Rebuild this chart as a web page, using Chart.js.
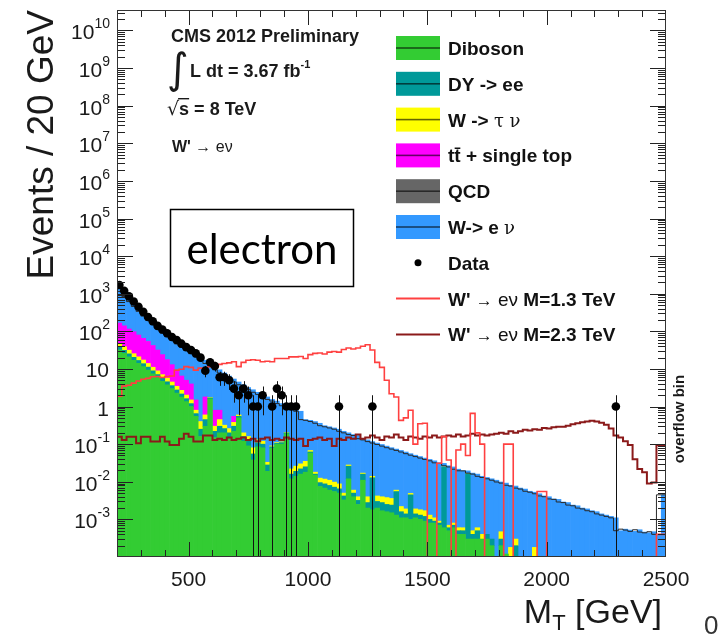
<!DOCTYPE html>
<html>
<head>
<meta charset="utf-8">
<script src="https://cdn.jsdelivr.net/npm/chart.js@4.4.1/dist/chart.umd.min.js"></script>
<style>
  html, body { margin: 0; padding: 0; background: #fff; }
  #wrap { width: 720px; height: 635px; position: relative; }
</style>
</head>
<body>
<div id="wrap"><canvas id="chart"></canvas></div>
<script>
// M_T histogram, 20 GeV bins from 200 to 2500 GeV (last bin = overflow)
const binStart = 200;
const binWidth = 20;
const nBins = 115;

const diboson = [
  32, 26, 21, 17, 14, 11.5, 9.3, 7.4, 5.9, 4.7,
  3.8, 3.0, 2.3, 1.8, 1.35, 1.0, 0.55, 0.16, 0.3, 1.6,
  0.15, 0.2, 0.2, 0.14, 0.22, 0.5, 0.12, 0.09, 0.038, 0.085,
  0.08, 0.019, 0.078, 0.1, 0.1, 0.19, 0.012, 0.014, 0.016, 0.018,
  0.058, 0.015, 0.0075, 0.0068, 0.006, 0.0055, 0.005, 0.0033, 0.012, 0.004,
  0.0025, 0.011, 0.002, 0.0018, 0.002, 0.0017, 0.0016, 0.0015, 0.0013, 0.0011,
  0.0011, 0.001, 0.0011, 0.001, 0.0009, 0.0008, 0.0008, 0.0007, 0.0006, 0.0005,
  0.0006, 0.0004, 0.0004, 0.0003, 0.0003, 0.0003, 0.0003, 0.0003, 0.0002, 0,
  0.0002, 0.00012, 0, 0.0001, 0, 0, 0, 0.0001, 0, 0,
  0, 0, 0, 0, 0, 0, 0, 0, 0, 0,
  0, 0, 0, 0, 0, 0, 0, 0, 0, 0,
  0, 0, 0, 0, 0
];
const dyee = [
  6.4, 5.2, 4.2, 3.4, 2.8, 2.3, 1.9, 1.5, 1.2, 0.95,
  0.76, 0.6, 0.46, 0.36, 0.27, 0.2, 0.1, 0.09, 0.15, 0.1,
  0.07, 0.1, 0.06, 0.06, 0.08, 0.05, 0.04, 0.04, 0.017, 0.025,
  0.02, 0.009, 0.007, 0.005, 0.01, 0.01, 0.004, 0.005, 0.006, 0.007,
  0.004, 0.001, 0.002, 0.002, 0.002, 0.0017, 0.0015, 0.0009, 0.014, 0.001,
  0.0007, 0.005, 0.0008, 0.011, 0.001, 0.0011, 0.0009, 0.0009, 0.0042, 0.0005,
  0.0003, 0.0035, 0.0003, 0.0003, 0.0003, 0.0002, 0.0001, 0.0001, 0.024, 0.0001,
  0.0001, 0.0001, 0.0001, 0.016, 0.0001, 0.0002, 0, 0.0001, 0.0001, 0,
  0.0001, 0, 0, 0.0001, 0, 0, 0, 0, 0, 0,
  0, 0, 0, 0, 0, 0, 0, 0, 0, 0,
  0, 0, 0, 0, 0, 0, 0, 0, 0, 0,
  0, 0, 0, 0, 0
];
const wtaunu = [
  9.6, 7.8, 6.3, 5.1, 4.2, 3.5, 2.8, 2.2, 1.8, 1.4,
  1.15, 0.9, 0.7, 0.54, 0.4, 0.3, 0.15, 0.15, 0.15, 0.05,
  0.08, 0.15, 0.06, 0.06, 0.08, 0.05, 0.04, 0.03, 0.025, 0.02,
  0.02, 0.005, 0.005, 0.005, 0.005, 0.005, 0.006, 0.007, 0.008, 0.01,
  0.006, 0.002, 0.003, 0.003, 0.003, 0.0026, 0.0023, 0.0008, 0.002, 0.001,
  0.0008, 0.001, 0.0012, 0.0012, 0.0012, 0.0012, 0.0013, 0.0012, 0.0005, 0.0006,
  0.0005, 0.0004, 0.0005, 0.0005, 0.0005, 0.0003, 0.0002, 0.0001, 0.0002, 0.0001,
  0.0001, 0.0001, 0.0001, 0.0002, 0.0001, 0.0001, 0.0001, 0, 0, 0,
  0.00017, 0, 0.00018, 0.0001, 0, 0, 0, 0.00008, 0, 0,
  0, 0, 0, 0, 0, 0, 0, 0, 0, 0,
  0, 0, 0, 0, 0, 0, 0, 0, 0, 0,
  0, 0, 0, 0, 0
];
const ttbar = [
  118, 101, 84, 72, 59, 48, 40, 31, 23, 17,
  12, 8.5, 5.5, 3.8, 3.0, 2.5, 0.7, 0, 1.2, 0,
  0.5, 0.35, 0, 0, 0.17
];
const qcd = [];
const wenu = [
  1330, 1010, 735, 520, 380, 275, 201, 153, 118, 91,
  72, 59, 49, 40, 33, 27, 24, 20.6, 15.2, 12.2,
  10.7, 8.7, 7.5, 6.2, 4.85, 3.9, 3.6, 3.04, 2.72, 2.27,
  1.98, 1.77, 1.46, 1.29, 1.085, 0.845, 0.928, 0.824, 0.72, 0.415,
  0.362, 0.382, 0.347, 0.298, 0.279, 0.26, 0.241, 0.215, 0.172, 0.174,
  0.166, 0.123, 0.126, 0.103, 0.103, 0.094, 0.085, 0.077, 0.068, 0.066,
  0.060, 0.051, 0.049, 0.045, 0.041, 0.038, 0.035, 0.031, 0.006, 0.026,
  0.024, 0.021, 0.019, 0.003, 0.0165, 0.0154, 0.0136, 0.0126, 0.0117, 0.011,
  0.0094, 0.0091, 0.0079, 0.0074, 0.0068, 0.0064, 0.0056, 0.0051, 0.0048, 0.0042,
  0.0040, 0.0035, 0.0034, 0.0029, 0.0028, 0.0024, 0.0023, 0.0020, 0.0019, 0.0017,
  0.0016, 0.0014, 0.0013, 0.0012, 0.0011, 0.0005, 0.00055, 0.00052, 0.00048, 0.00053,
  0.00046, 0.00044, 0.00047, 0.0004, 0.0045
];
const dataCounts = [
  1700, 1200, 850, 620, 450, 330, 240, 185, 140, 112,
  89, 71, 59, 47, 38, 32, 26, 20, 9, 15,
  12, 6, 6, 5, 3, 2, 3, 2, 1, 1,
  2, 0, 1, 3, 2, 1, 1, 1, 0, 0,
  0, 0, 0, 0, 0, 0, 1, 0, 0, 0,
  0, 0, 0, 1, 0, 0, 0, 0, 0, 0,
  0, 0, 0, 0, 0, 0, 0, 0, 0, 0,
  0, 0, 0, 0, 0, 0, 0, 0, 0, 0,
  0, 0, 0, 0, 0, 0, 0, 0, 0, 0,
  0, 0, 0, 0, 0, 0, 0, 0, 0, 0,
  0, 0, 0, 0, 1, 0, 0, 0, 0, 0,
  0, 0, 0, 0, 0
];
const wprime1300 = [
  4.6, 1.9, 3.5, 3.7, 4.2, 4.8, 5.3, 5.6, 6.2, 6.3,
  5.9, 6.3, 6.5, 9.3, 9.8, 11.5, 11, 9.3, 10.5, 10.3,
  11.5, 12.9, 13.2, 14, 14.5, 15.5, 11.5, 15, 17, 17.5,
  17, 15.5, 16, 15.5, 19, 19, 19, 21, 21, 21.5,
  19, 24, 26, 26.5, 25, 28, 29, 28, 33, 36,
  34, 36, 40, 44, 32, 15, 11, 5, 2.2, 1.8,
  0.43, 0.5, 0.8, 0.1, 0.35, 0.36, 0, 0, 0.031, 0.16,
  0.038, 0, 0.07, 0.1, 0.05, 0.66, 0.2, 0.1, 0, 0,
  0, 0, 0.1, 0.1, 0, 0, 0, 0, 0, 0.0055,
  0.0055, 0, 0, 0, 0, 0, 0, 0, 0, 0,
  0, 0, 0, 0, 0, 0, 0, 0, 0, 0,
  0, 0, 0, 0, 0.0004
];
const wprime2300 = [
  0.158, 0.158, 0.13, 0.158, 0.158, 0.105, 0.158, 0.158, 0.117, 0.117,
  0.158, 0.117, 0.095, 0.095, 0.14, 0.19, 0.158, 0.117, 0.117, 0.17,
  0.17, 0.13, 0.14, 0.13, 0.15, 0.13, 0.14, 0.15, 0.13, 0.14,
  0.12, 0.14, 0.15, 0.13, 0.14, 0.13, 0.15, 0.14, 0.13, 0.14,
  0.09, 0.13, 0.14, 0.15, 0.13, 0.14, 0.09, 0.14, 0.13, 0.15,
  0.14, 0.18, 0.14, 0.15, 0.17, 0.15, 0.13, 0.16, 0.15, 0.18,
  0.15, 0.13, 0.16, 0.15, 0.14, 0.16, 0.15, 0.17, 0.15, 0.16,
  0.17, 0.16, 0.18, 0.16, 0.17, 0.19, 0.17, 0.18, 0.17, 0.18,
  0.19, 0.2, 0.19, 0.22, 0.2, 0.22, 0.24, 0.23, 0.25, 0.24,
  0.27, 0.26, 0.28, 0.29, 0.29, 0.31, 0.34, 0.36, 0.38, 0.40,
  0.42, 0.40, 0.37, 0.33, 0.26, 0.17, 0.15, 0.12, 0.095, 0.04,
  0.022, 0.018, 0.009, 0.0095, 0.095
];

const xTickLabels = [500, 1000, 1500, 2000, 2500];
const yDecades = [-3, -2, -1, 0, 1, 2, 3, 4, 5, 6, 7, 8, 9, 10];
const yMin = 1e-4, yMax = 3.5e10;

const FONT = '"Liberation Sans", Arial, Helvetica, sans-serif';
const colors = {
  diboson: '#33cc33', dy: '#009999', wtau: '#ffff00', tt: '#ff00ff',
  qcd: '#666666', wenu: '#3399ff', sig1: '#ff4040', sig2: '#8b1a1a'
};

const center = i => binStart + binWidth * (i + 0.5);
const barPts = vals => vals.map((v, i) => ({ x: center(i), y: v })).filter(p => p.y > 0);
// stepped histogram line: one point per lower bin edge plus the closing edge
const histPts = vals => {
  const pts = vals.map((v, i) => ({ x: binStart + binWidth * i, y: v > 0 ? v : yMin }));
  pts.push({ x: binStart + binWidth * vals.length, y: pts[pts.length - 1].y });
  return pts;
};
const totals = wenu.map((v, i) => v + (diboson[i] || 0) + (dyee[i] || 0) + (wtaunu[i] || 0) + (ttbar[i] || 0));

const barSet = (label, vals, color) => ({
  type: 'bar', label, data: barPts(vals), backgroundColor: color,
  borderWidth: 0, stack: 'bg', order: 5, barPercentage: 1, categoryPercentage: 1
});

const datasets = [
  barSet('Diboson', diboson, colors.diboson),
  barSet('DY -> ee', dyee, colors.dy),
  barSet('W -> τν', wtaunu, colors.wtau),
  barSet('tt + single top', ttbar, colors.tt),
  barSet('QCD', qcd, colors.qcd),
  barSet('W-> eν', wenu, colors.wenu),
  {
    type: 'line', label: 'total', data: histPts(totals), stepped: 'after',
    borderColor: '#2a2a2a', borderWidth: 1, pointRadius: 0, fill: false, order: 4
  },
  {
    type: 'line', label: "W' 1.3", data: histPts(wprime1300), stepped: 'after',
    borderColor: colors.sig1, borderWidth: 1.6, pointRadius: 0, fill: false, order: 2
  },
  {
    type: 'line', label: "W' 2.3", data: histPts(wprime2300), stepped: 'after',
    borderColor: colors.sig2, borderWidth: 2, pointRadius: 0, fill: false, order: 3
  },
  {
    type: 'line', label: 'Data', data: barPts(dataCounts), showLine: false,
    pointRadius: 4.3, pointBackgroundColor: '#000', pointBorderColor: '#000',
    pointBorderWidth: 0, order: 0
  }
];

function richText(ctx, x, y, parts, align) {
  let w = 0;
  for (const p of parts) { ctx.font = p[1]; w += ctx.measureText(p[0]).width; }
  let cx = align === 'right' ? x - w : align === 'center' ? x - w / 2 : x;
  ctx.textAlign = 'left';
  for (const p of parts) {
    ctx.font = p[1];
    ctx.fillText(p[0], cx, y + (p[2] || 0));
    cx += ctx.measureText(p[0]).width;
  }
  return w;
}

const rootStyle = {
  id: 'rootStyle',
  beforeDatasetDraw(chart, args) {
    if (chart.data.datasets[args.index].label !== 'Data') return;
    const { ctx, chartArea: a, scales: { x, y } } = chart;
    ctx.save();
    ctx.beginPath();
    ctx.rect(a.left, a.top, a.right - a.left, a.bottom - a.top);
    ctx.clip();
    ctx.strokeStyle = '#111';
    ctx.lineWidth = 1;
    ctx.beginPath();
    dataCounts.forEach((n, i) => {
      if (!n) return;
      const px = Math.round(x.getPixelForValue(center(i))) + 0.5;
      const lo = n - Math.sqrt(n);
      const yLo = lo > y.min ? y.getPixelForValue(lo) : a.bottom;
      ctx.moveTo(px, yLo);
      ctx.lineTo(px, y.getPixelForValue(n + Math.sqrt(n)));
    });
    ctx.stroke();
    ctx.restore();
  },
  afterDatasetsDraw(chart) {
    const { ctx, chartArea: a, scales: { x, y } } = chart;
    ctx.save();
    ctx.strokeStyle = '#222';
    ctx.lineWidth = 1;
    ctx.beginPath();
    for (let v = 300; v < 2500; v += 100) {
      const px = Math.round(x.getPixelForValue(v)) + 0.5;
      const len = v % 500 === 0 ? 15 : 7;
      ctx.moveTo(px, a.bottom); ctx.lineTo(px, a.bottom - len);
      ctx.moveTo(px, a.top); ctx.lineTo(px, a.top + len);
    }
    for (let e = -4; e <= 10; e++) {
      for (let m = 1; m <= 9; m++) {
        const v = m * Math.pow(10, e);
        if (v <= y.min * 1.001 || v > y.max) continue;
        const py = Math.round(y.getPixelForValue(v)) + 0.5;
        const len = m === 1 ? 16 : 8;
        ctx.moveTo(a.left, py); ctx.lineTo(a.left + len, py);
        ctx.moveTo(a.right, py); ctx.lineTo(a.right - len, py);
      }
    }
    ctx.stroke();
    ctx.strokeStyle = '#333';
    ctx.strokeRect(a.left + 0.5, a.top + 0.5, a.right - a.left - 1, a.bottom - a.top - 1);
    ctx.restore();
  },
  afterDraw(chart) {
    const { ctx, chartArea: a, scales: { x, y } } = chart;
    ctx.save();
    ctx.fillStyle = '#1a1a1a';
    ctx.textBaseline = 'alphabetic';

    // y tick labels
    for (const e of yDecades) {
      const py = y.getPixelForValue(Math.pow(10, e));
      if (e === 0) richText(ctx, 109, py + 9, [['1', '21px ' + FONT]], 'right');
      else if (e === 1) richText(ctx, 109, py + 8, [['10', '21px ' + FONT]], 'right');
      else richText(ctx, 110, py + 9, [['10', '21px ' + FONT], [String(e), '14px ' + FONT, -11]], 'right');
    }
    // x tick labels
    ctx.textAlign = 'center';
    ctx.font = '21px ' + FONT;
    for (const v of xTickLabels) ctx.fillText(String(v), x.getPixelForValue(v), 586);

    // axis titles
    richText(ctx, 662, 623, [['M', '34px ' + FONT], ['T', '22px ' + FONT, 7], [' [GeV]', '34px ' + FONT]], 'right');
    ctx.save();
    ctx.translate(53, 10);
    ctx.rotate(-Math.PI / 2);
    ctx.textAlign = 'right';
    ctx.font = '37px ' + FONT;
    ctx.fillText('Events / 20 GeV', 0, 0);
    ctx.restore();

    // overflow label
    ctx.save();
    ctx.translate(684, 419);
    ctx.rotate(-Math.PI / 2);
    ctx.textAlign = 'center';
    ctx.font = 'bold 15px ' + FONT;
    ctx.fillText('overflow bin', 0, 0);
    ctx.restore();

    // CMS labels
    const bold18 = 'bold 18px ' + FONT;
    richText(ctx, 171, 42, [['CMS 2012 Preliminary', bold18]]);
    ctx.font = '42px "DejaVu Sans"';
    ctx.textAlign = 'left';
    ctx.fillText('∫', 167, 83);
    richText(ctx, 190, 77, [['L dt = 3.67 fb', bold18], ['-1', 'bold 11px ' + FONT, -9]]);
    const w0 = richText(ctx, 167, 115, [['√', '19px "DejaVu Sans"']]);
    richText(ctx, 167 + w0, 115, [['s = 8 TeV', bold18]]);
    ctx.fillRect(167 + w0 - 1, 98, 11, 1.4);
    richText(ctx, 172, 152, [["W'", 'bold 16px ' + FONT], [' → eν', '16px ' + FONT]]);

    // electron box
    ctx.fillStyle = '#fff';
    ctx.fillRect(170, 209, 184, 78);
    ctx.strokeStyle = '#000';
    ctx.lineWidth = 1.5;
    ctx.strokeRect(170.5, 209.5, 183, 77);
    ctx.fillStyle = '#000';
    ctx.textAlign = 'center';
    ctx.font = '42px Lato, "Open Sans", sans-serif';
    ctx.fillText('electron', 262, 264);

    // legend
    ctx.fillStyle = '#fff';
    ctx.fillRect(390, 30, 256, 322);
    const entries = [
      { kind: 'box', color: colors.diboson, parts: [['Diboson', 'bold 19px ' + FONT]] },
      { kind: 'box', color: colors.dy, parts: [['DY -> ee', 'bold 19px ' + FONT]] },
      { kind: 'box', color: colors.wtau, parts: [['W -> ', 'bold 19px ' + FONT], ['τ ν', '18px "DejaVu Serif"']] },
      { kind: 'box', color: colors.tt, parts: [['tt̄ + single top', 'bold 19px ' + FONT]] },
      { kind: 'box', color: colors.qcd, parts: [['QCD', 'bold 19px ' + FONT]] },
      { kind: 'box', color: colors.wenu, parts: [['W-> e ', 'bold 19px ' + FONT], ['ν', '18px "DejaVu Serif"']] },
      { kind: 'dot', color: '#000', parts: [['Data', 'bold 19px ' + FONT]] },
      { kind: 'line', color: colors.sig1, parts: [["W' ", 'bold 19px ' + FONT], ['→', '17px ' + FONT], [' eν ', '19px ' + FONT], ['M=1.3 TeV', 'bold 19px ' + FONT]] },
      { kind: 'line', color: colors.sig2, parts: [["W' ", 'bold 19px ' + FONT], ['→', '17px ' + FONT], [' eν ', '19px ' + FONT], ['M=2.3 TeV', 'bold 19px ' + FONT]] }
    ];
    entries.forEach((en, k) => {
      const cy = 48 + 35.8 * k;
      if (en.kind === 'box') {
        ctx.fillStyle = en.color;
        ctx.fillRect(396, cy - 12, 44, 24);
        ctx.fillStyle = 'rgba(0,0,0,0.6)';
        ctx.fillRect(396, cy - 0.8, 44, 1.6);
      } else if (en.kind === 'dot') {
        ctx.fillStyle = '#000';
        ctx.beginPath();
        ctx.arc(418, cy, 3.5, 0, Math.PI * 2);
        ctx.fill();
      } else {
        ctx.strokeStyle = en.color;
        ctx.lineWidth = 2;
        ctx.beginPath();
        ctx.moveTo(396, cy); ctx.lineTo(440, cy);
        ctx.stroke();
      }
      ctx.fillStyle = '#111';
      richText(ctx, 448, cy + 7, en.parts);
    });

    // page number remnant
    ctx.fillStyle = '#333';
    ctx.font = '26px ' + FONT;
    ctx.textAlign = 'left';
    ctx.fillText('0', 704, 634);
    ctx.restore();
  }
};

new Chart(document.getElementById('chart'), {
  type: 'bar',
  data: { datasets },
  options: {
    responsive: true,
    maintainAspectRatio: false,
    animation: false,
    layout: { padding: { left: 117, top: 10, right: 54, bottom: 78 } },
    plugins: { legend: { display: false }, tooltip: { enabled: false } },
    scales: {
      x: { type: 'linear', min: 200, max: 2500, offset: false, display: false },
      y: { type: 'logarithmic', min: yMin, max: yMax, display: false }
    }
  },
  plugins: [rootStyle]
});
</script>
</body>
</html>
